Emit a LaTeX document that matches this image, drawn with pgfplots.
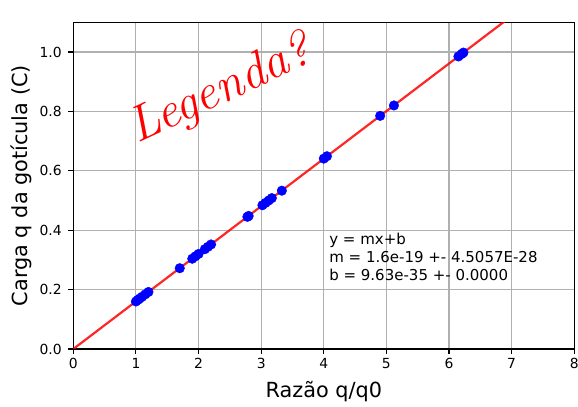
\documentclass[border=0pt]{standalone}
\usepackage{pgfplots}
\pgfplotsset{compat=1.18}
\usepackage{fontspec}
\setmainfont{DejaVu Sans}
\newfontfamily\hand{Latin Modern Roman}
\definecolor{gridgray}{HTML}{B0B0B0}
\begin{document}
\begin{tikzpicture}
\useasboundingbox (-73.3bp,-58bp) rectangle (504.7bp,349bp);
\begin{axis}[
  at={(0,0)}, anchor=south west,
  scale only axis, width=501bp, height=326.7bp,
  xmin=0, xmax=8, ymin=0, ymax=1.1,
  xtick={0,1,2,3,4,5,6,7,8},
  ytick={0,0.2,0.4,0.6,0.8,1.0},
  yticklabels={0.0,0.2,0.4,0.6,0.8,1.0},
  /pgf/number format/assume math mode=true,
  tick pos=left, tick align=outside,
  major tick length=4.9bp,
  tick style={black, line width=1.1bp},
  axis line style={black, line width=1.1bp},
  grid=major,
  major grid style={gridgray, line width=1.1bp},
  ticklabel style={font=\fontsize{13.9bp}{16bp}\selectfont, inner sep=0pt},
  xticklabel style={anchor=north, yshift=-4bp},
  yticklabel style={anchor=east, xshift=-6.5bp},
  xlabel={Razão q/q0},
  ylabel={Carga q da gotícula (C)},
  label style={font=\fontsize{20.8bp}{24bp}\selectfont, inner sep=0pt},
  xlabel style={at={([yshift=-48bp]rel axis cs:0.5,0)}, anchor=base},
  ylabel style={at={([xshift=-45.3bp]rel axis cs:0,0.5)}, rotate=0, anchor=base},
]
\addplot[only marks, mark=*, mark size=4.8bp, draw=blue, fill=blue, mark options={draw=blue, fill=blue}] coordinates {
(1.00,0.160) (1.03,0.165) (1.06,0.170) (1.10,0.176) (1.15,0.184) (1.20,0.192)
(1.70,0.272)
(1.90,0.304) (1.95,0.312) (2.00,0.320)
(2.10,0.336) (2.15,0.344) (2.20,0.352)
(2.78,0.445) (2.80,0.448)
(3.02,0.484) (3.07,0.492) (3.12,0.500) (3.17,0.508)
(3.33,0.533)
(4.00,0.641) (4.05,0.649)
(4.90,0.785)
(5.12,0.820)
(6.15,0.985) (6.20,0.993) (6.23,0.998)
};
\addplot[red, line width=2.2bp, opacity=0.85] coordinates {(0,0) (7,1.1214)};
\node[anchor=base west, inner sep=0pt, font=\fontsize{15bp}{18bp}\selectfont] at (axis cs:4.085,0.3535) {y = mx+b};
\node[anchor=base west, inner sep=0pt, font=\fontsize{15bp}{18bp}\selectfont] at (axis cs:4.085,0.2929) {m = 1.6e-19 +- 4.5057E-28};
\node[anchor=base west, inner sep=0pt, font=\fontsize{15bp}{18bp}\selectfont] at (axis cs:4.085,0.2323) {b = 9.63e-35 +- 0.0000};
\node[anchor=base west, inner sep=0pt, font=\fontsize{13.9bp}{16bp}\selectfont] at ([yshift=4bp,xshift=0.7bp]rel axis cs:0,1) {1e−18};
\node[red, rotate=25, inner sep=0pt, font=\fontsize{50bp}{52bp}\selectfont\hand\itshape] at (axis cs:2.36,0.87) {Legenda?};
\end{axis}
\end{tikzpicture}
\end{document}
